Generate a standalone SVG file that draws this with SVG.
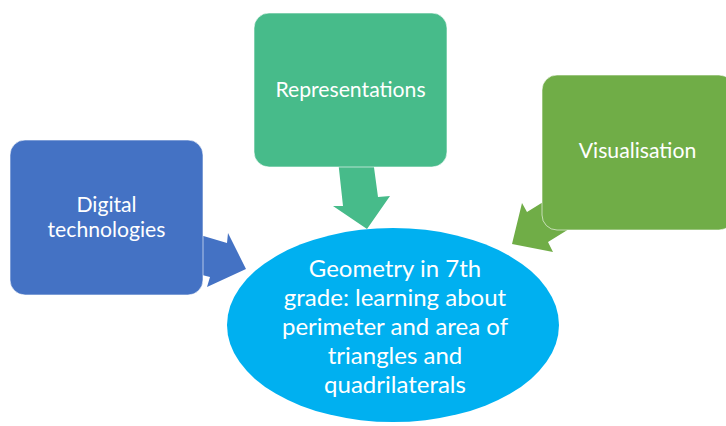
<svg xmlns="http://www.w3.org/2000/svg" width="726" height="426" viewBox="0 0 726 426">
<style>
.box{stroke:#ffffff;stroke-width:1;stroke-opacity:0.6}
.t{font-family:Lato,"Liberation Sans",sans-serif;fill:#ffffff;text-anchor:middle}
.s{font-size:21.2px}
.l{font-size:24px}
</style>
<rect width="726" height="426" fill="#ffffff"/>
<g id="center">
<ellipse cx="393" cy="325" rx="166" ry="97" fill="#00B0F0"/>
<text class="t l" x="395" y="277">Geometry in 7th</text>
<text class="t l" x="395" y="306">grade: learning about</text>
<text class="t l" x="395" y="335">perimeter and area of</text>
<text class="t l" x="395" y="364">triangles and</text>
<text class="t l" x="395" y="393">quadrilaterals</text>
</g>
<g id="connectors">
<polygon points="190,232 227,243 228,233 246,269 207,287 210,277 190,272" fill="#4472C4"/>
<polygon points="338,160 373,160 378,197 390,196 367,229 333,206 343,206" fill="#47BB8A"/>
<polygon points="561,191 527,212 522,203 512,244 553,252 548,242 582,221" fill="#70AD47"/>
</g>
<g id="digital">
<rect class="box" x="10" y="140" width="193" height="155" rx="15" fill="#4472C4"/>
<text class="t s" x="106.5" y="212">Digital</text>
<text class="t s" x="106.5" y="237">technologies</text>
</g>
<g id="representations">
<rect class="box" x="254" y="13" width="193" height="154" rx="15" fill="#47BB8A"/>
<text class="t s" x="350.5" y="97">Representations</text>
</g>
<g id="visualisation">
<rect class="box" x="542" y="75" width="192" height="155" rx="15" fill="#70AD47"/>
<text class="t s" x="637.5" y="158">Visualisation</text>
</g>
</svg>
